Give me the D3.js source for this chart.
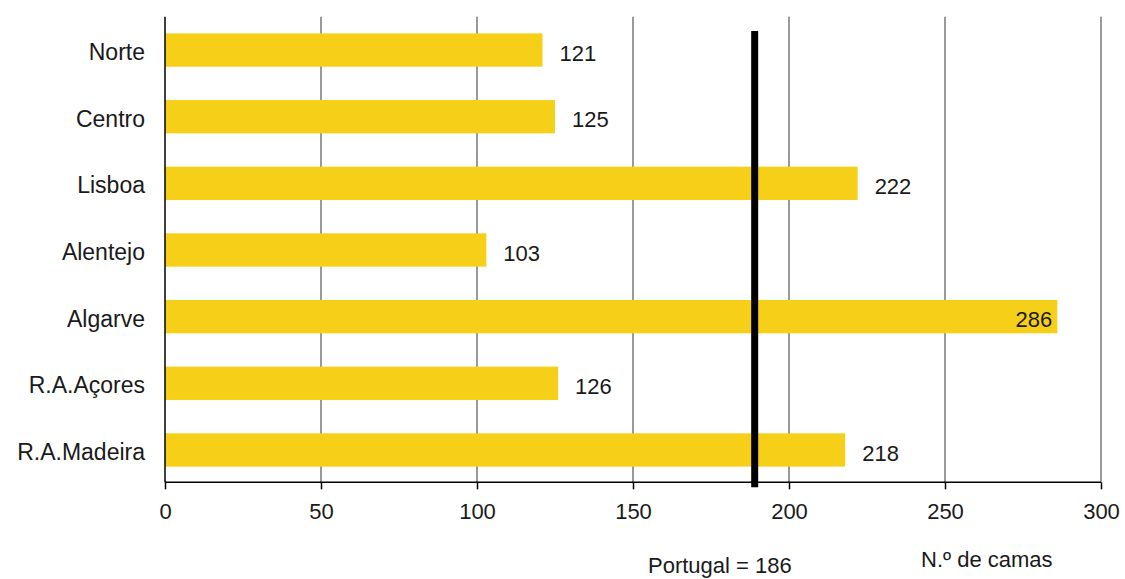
<!DOCTYPE html>
<html>
<head>
<meta charset="utf-8">
<script src="https://cdn.jsdelivr.net/npm/d3@7"></script>
<style>
  body { margin: 0; background: #fff; }
  text { font-family: "Liberation Sans", Arial, sans-serif; fill: #1a1a1a; }
</style>
</head>
<body>
<svg id="chart" width="1125" height="579"></svg>
<script>
// regions and number of beds
const regions = ["Norte", "Centro", "Lisboa", "Alentejo", "Algarve", "R.A.Açores", "R.A.Madeira"];
const beds = [121, 125, 222, 103, 286, 126, 218];
const xTicks = [0, 50, 100, 150, 200, 250, 300];

// national reference (label says 186, the marker sits a little right of that)
const portugalValue = 186;
const portugalMarker = 189;

const width = 1125, height = 579;
const margin = {top: 16.7, right: 24, bottom: 95.7, left: 165};

const svg = d3.select("#chart");

let x = d3.scaleLinear()
    .domain([0, 300])
    .range([margin.left, width - margin.right]);

let y = d3.scaleBand()
    .domain(regions)
    .range([margin.top, height - margin.bottom])
    .paddingInner(0.5)
    .paddingOuter(0.25);

const axisY = height - margin.bottom - 1;

// vertical gridlines
svg.append("g")
  .selectAll("line")
  .data(xTicks.slice(1))
  .join("line")
  .attr("x1", d => x(d))
  .attr("x2", d => x(d))
  .attr("y1", margin.top)
  .attr("y2", axisY)
  .attr("stroke", "#9a9a9a")
  .attr("stroke-width", 2);

// bars
svg.append("g")
  .selectAll("rect")
  .data(regions)
  .join("rect")
  .attr("x", x(0))
  .attr("y", d => y(d))
  .attr("width", (d, i) => x(beds[i]) - x(0))
  .attr("height", y.bandwidth())
  .attr("fill", "#f6d018");

// value labels
svg.append("g")
  .selectAll("text")
  .data(regions)
  .join("text")
  .attr("x", (d, i) => beds[i] > 250 ? x(beds[i]) - 5 : x(beds[i]) + 17)
  .attr("y", d => y(d) + y.bandwidth() / 2 + 3)
  .attr("dy", "0.35em")
  .attr("text-anchor", (d, i) => beds[i] > 250 ? "end" : "start")
  .style("font-size", "22px")
  .text((d, i) => beds[i]);

// Portugal marker
svg.append("line")
  .attr("x1", x(portugalMarker))
  .attr("x2", x(portugalMarker))
  .attr("y1", 31)
  .attr("y2", axisY + 5)
  .attr("stroke", "#000")
  .attr("stroke-width", 7);

// x axis
let xAxis = d3.axisBottom(x)
    .tickValues(xTicks)
    .tickSize(7)
    .tickPadding(14);

let gx = svg.append("g")
  .attr("transform", `translate(0, ${axisY})`)
  .call(xAxis);
gx.select(".domain").attr("stroke", "#000").attr("stroke-width", 1.5).attr("d", `M${x(0)},0H${x(300)}`);
gx.selectAll(".tick line").attr("stroke", "#000").attr("stroke-width", 1.5);
gx.selectAll(".tick text")
  .style("font-size", "22px")
  .style("font-family", "Liberation Sans, Arial, sans-serif")
  .attr("fill", "#1a1a1a");

// y axis line
svg.append("line")
  .attr("x1", x(0))
  .attr("x2", x(0))
  .attr("y1", margin.top)
  .attr("y2", axisY)
  .attr("stroke", "#000")
  .attr("stroke-width", 1.5);

// category labels
svg.append("g")
  .selectAll("text")
  .data(regions)
  .join("text")
  .attr("x", 145)
  .attr("y", d => y(d) + y.bandwidth() / 2 + 2)
  .attr("dy", "0.35em")
  .attr("text-anchor", "end")
  .style("font-size", "23px")
  .text(d => d);

// footer texts
svg.append("text")
  .attr("x", 648)
  .attr("y", 573)
  .style("font-size", "22px")
  .text(`Portugal = ${portugalValue}`);

svg.append("text")
  .attr("x", 921)
  .attr("y", 567)
  .style("font-size", "22px")
  .text("N.º de camas");
</script>
</body>
</html>
